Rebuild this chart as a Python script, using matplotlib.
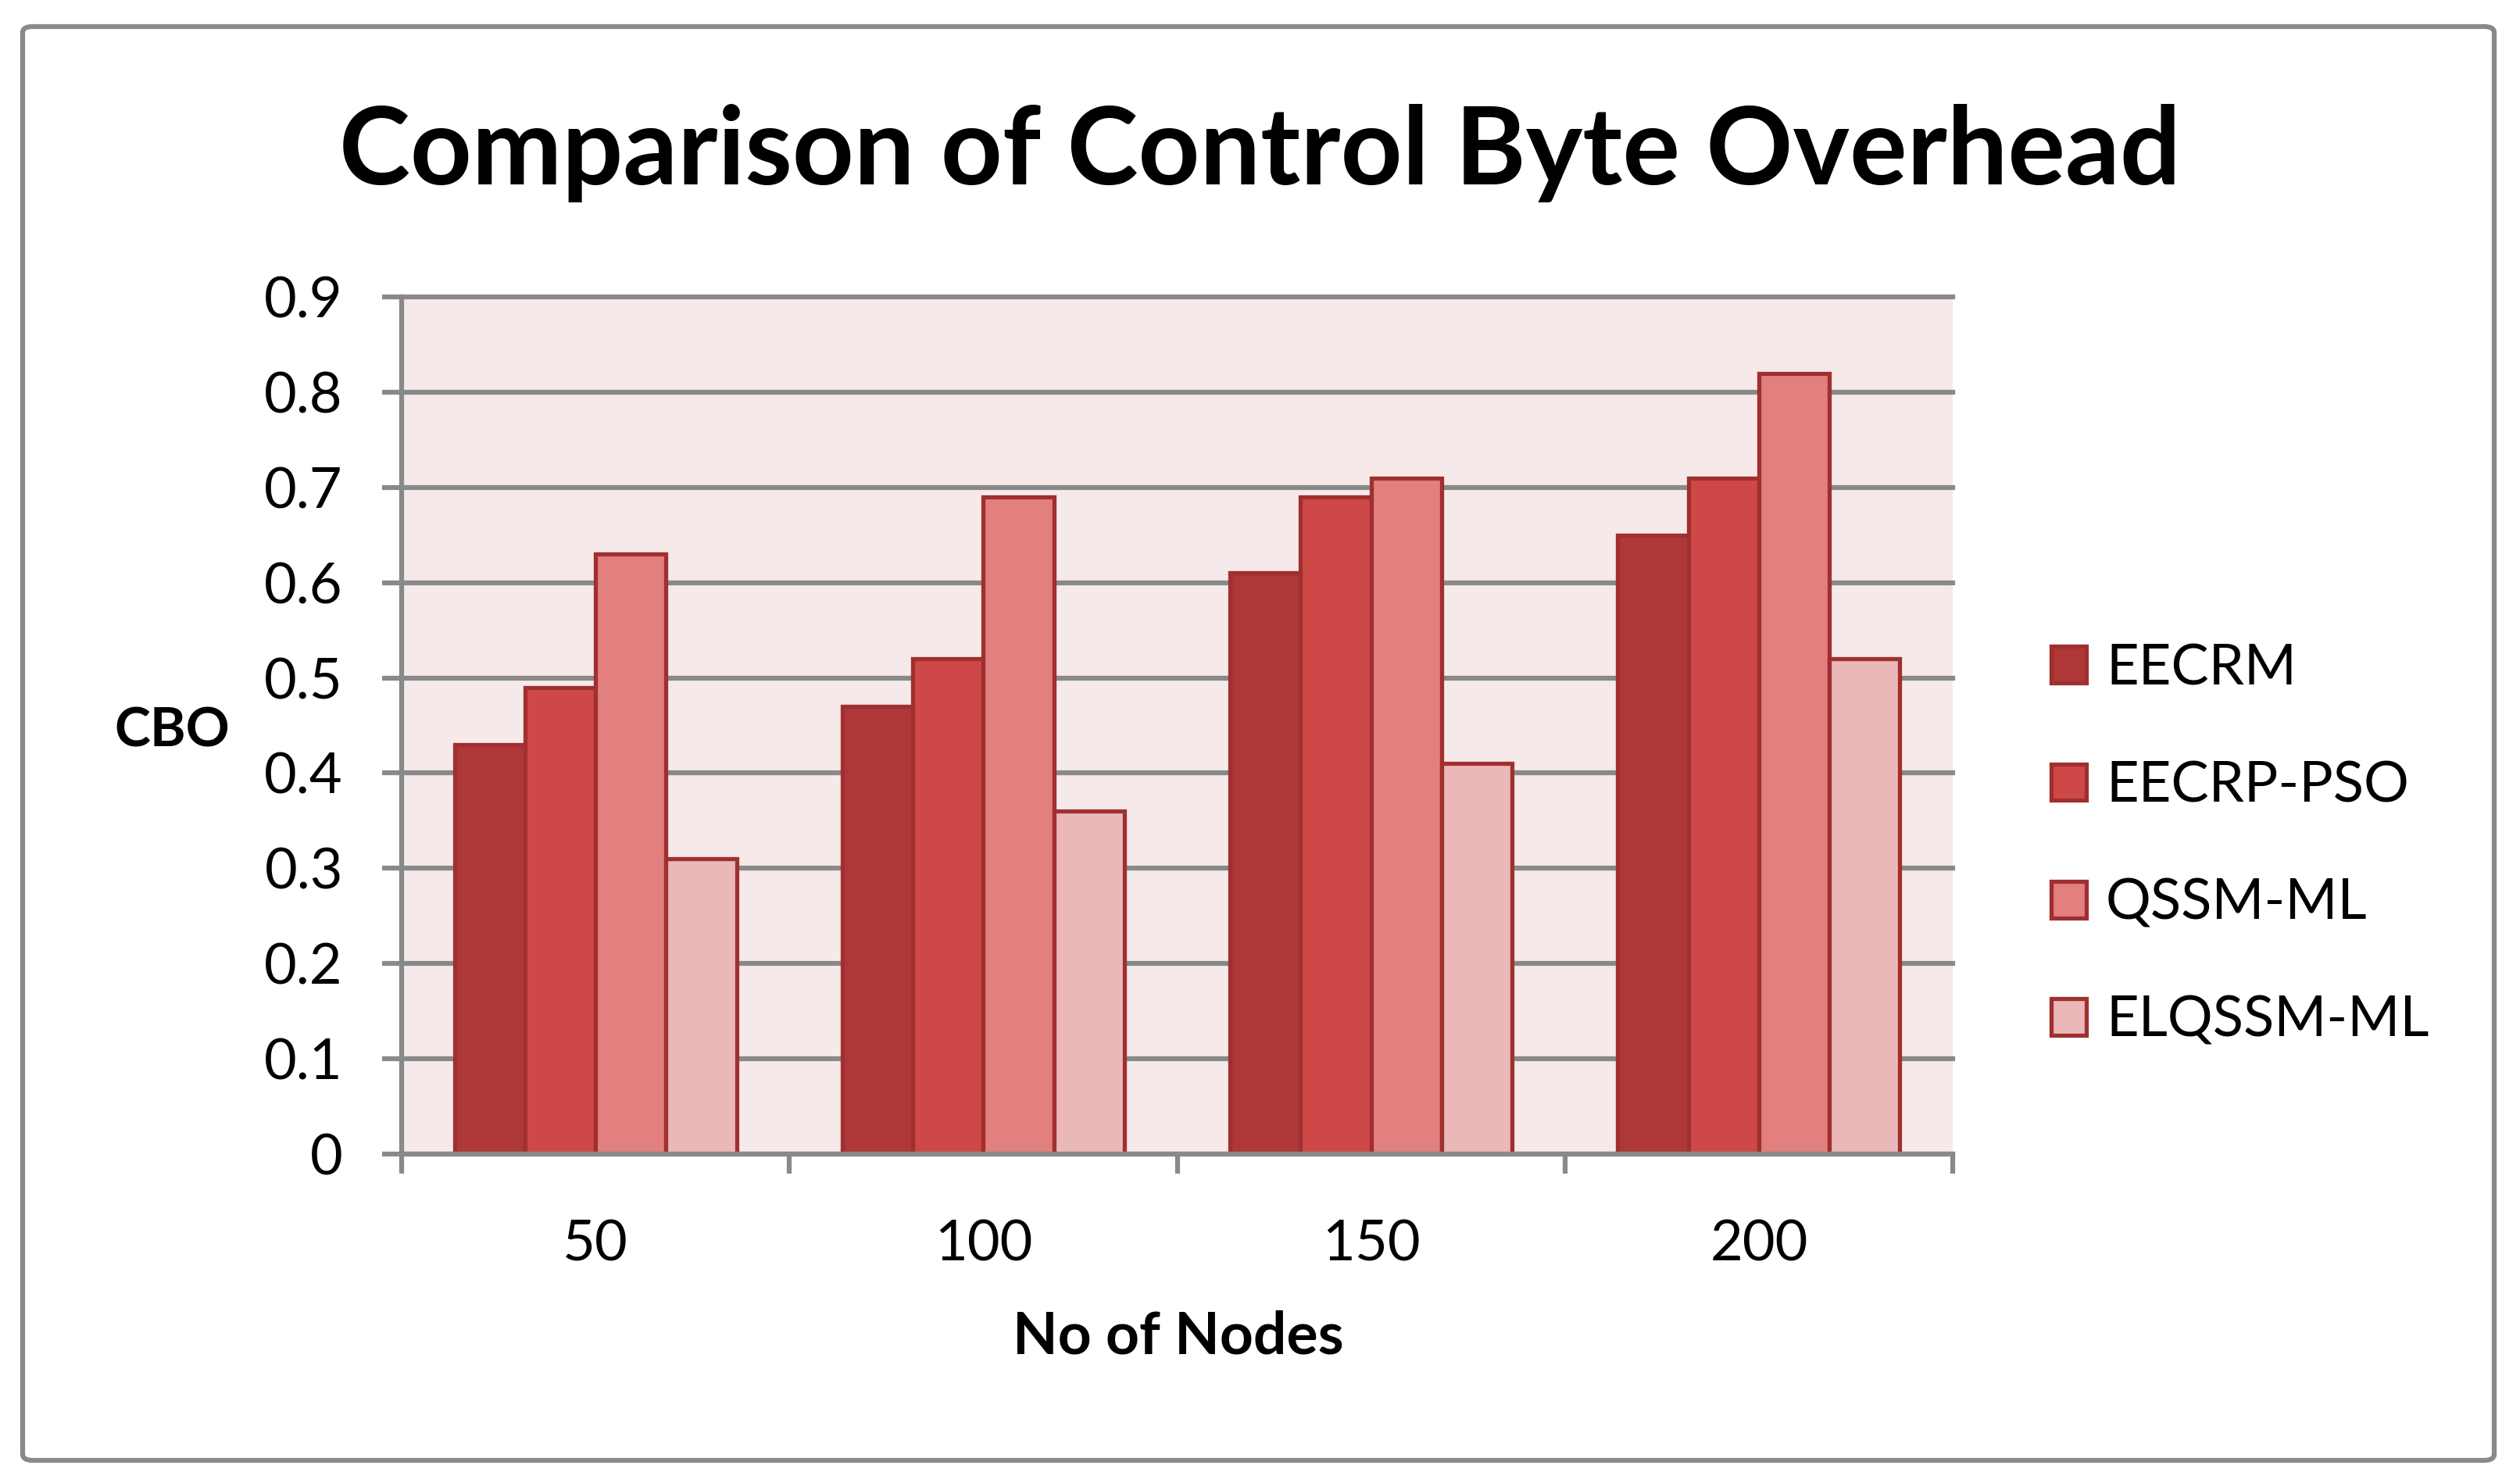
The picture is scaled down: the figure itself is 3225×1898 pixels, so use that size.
import matplotlib
matplotlib.use("Agg")
import matplotlib.pyplot as plt
from matplotlib.patches import FancyBboxPatch
import numpy as np

plt.rcParams['font.family'] = ['Lato', 'DejaVu Sans']

categories = ["50", "100", "150", "200"]
series_names = ["EECRM", "EECRP-PSO", "QSSM-ML", "ELQSSM-ML"]
eecrm = [0.43, 0.47, 0.61, 0.65]
eecrp_pso = [0.49, 0.52, 0.69, 0.71]
qssm_ml = [0.63, 0.69, 0.71, 0.82]
elqssm_ml = [0.31, 0.36, 0.41, 0.52]
y_ticks = [0, 0.1, 0.2, 0.3, 0.4, 0.5, 0.6, 0.7, 0.8, 0.9]
y_tick_labels = ["0", "0.1", "0.2", "0.3", "0.4", "0.5", "0.6", "0.7", "0.8", "0.9"]

fills = ["#AE3838", "#CF4848", "#E27F7F", "#EAB8B8"]
edge = "#A02F2F"
grid_c = "#898989"

W, H = 3225, 1898
fig = plt.figure(figsize=(W / 100, H / 100), dpi=100)
fig.patch.set_facecolor("white")

# outer border
border = FancyBboxPatch((29 / W, 29 / H), (3192 - 29) / W, (1864 - 29) / H,
                        boxstyle="round,pad=0,rounding_size=0.004",
                        transform=fig.transFigure, facecolor="none",
                        edgecolor=grid_c, linewidth=4.5, zorder=0)
fig.patches.append(border)

x0, x1, ytop, ybot = 514, 2499, 380, 1477
ax = fig.add_axes([x0 / W, 1 - ybot / H, (x1 - x0) / W, (ybot - ytop) / H])
ax.set_facecolor("#F6E9E9")

data = [eecrm, eecrp_pso, qssm_ml, elqssm_ml]
n = len(series_names)
bw = 1 / (n + 1.5)
centers = np.arange(len(categories)) + 0.5
handles = []
for i, (vals, name) in enumerate(zip(data, series_names)):
    offs = (i - (n - 1) / 2) * bw
    b = ax.bar(centers + offs, vals, width=bw, color=fills[i], edgecolor=edge,
               linewidth=3.8, label=name, zorder=3)
    handles.append(b)

ax.set_xlim(0, len(categories))
ax.set_ylim(0, 0.9)
ax.set_yticks(y_ticks)
ax.set_yticklabels(y_tick_labels)
ax.yaxis.grid(True, color=grid_c, linewidth=4.5)
for gl in ax.get_ygridlines():
    gl.set_clip_on(False)
ax.set_axisbelow(True)

ax.set_xticks(np.arange(len(categories) + 1))
ax.set_xticklabels([])
ax.set_xticks(centers, minor=True)
ax.set_xticklabels(categories, minor=True)

for s in ["top", "right"]:
    ax.spines[s].set_visible(False)
for s in ["left", "bottom"]:
    ax.spines[s].set_color(grid_c)
    ax.spines[s].set_linewidth(4.5)
    ax.spines[s].set_zorder(4)

ax.tick_params(axis="y", direction="out", length=18, width=4.5, color=grid_c,
               labelsize=52, pad=36, labelcolor="black")
ax.tick_params(axis="x", which="major", direction="out", length=18, width=4.5,
               color=grid_c)
ax.tick_params(axis="x", which="minor", length=0, labelsize=52, pad=60,
               labelcolor="black")

fig.text(1612 / W, 1 - 196 / H, "Comparison of Control Byte Overhead",
         ha="center", va="center", fontsize=99, fontweight="bold")
fig.text(220 / W, 1 - 936 / H, "CBO", ha="center", va="center",
         fontsize=50, fontweight="bold")
fig.text(1508 / W, 1 - 1711 / H, "No of Nodes", ha="center", va="center",
         fontsize=54, fontweight="bold")

leg = fig.legend(handles=handles, labels=series_names, loc="center left",
                 bbox_to_anchor=(2625 / W, 1 - 1081 / H), frameon=False,
                 fontsize=52, handlelength=0.62, handleheight=0.62,
                 handletextpad=0.35, labelspacing=1.18, borderpad=0,
                 borderaxespad=0)

fig.savefig("out.png", dpi=100)
